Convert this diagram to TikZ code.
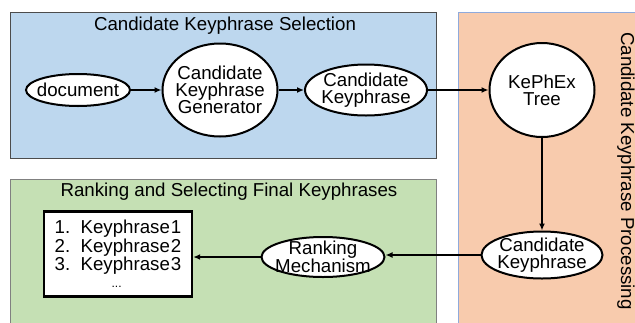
\documentclass[tikz,border=0pt]{standalone}
\usepackage{fontspec}
\setmainfont{Liberation Sans}
\usetikzlibrary{shapes.geometric,arrows.meta}
\definecolor{selblue}{HTML}{BDD7EE}
\definecolor{procorange}{HTML}{F8CBAD}
\definecolor{rankgreen}{HTML}{C5E0B4}
\definecolor{procedge}{HTML}{8FAADC}
\begin{document}
\begin{tikzpicture}[x=1pt,y=-1pt,
    bubble/.style={draw,ellipse,line width=2pt,fill=white,inner sep=-14pt,align=center},
    link/.style={line width=1.7pt,-{Latex[length=7pt,width=6pt]}},
    every node/.style={font=\fontsize{18.7}{17}\selectfont}]
            \clip (0,0) rectangle (635,322);
            % the three stages
            \draw[fill=selblue,draw=black!70] (10,12) rectangle (436,158);
            \draw[fill=procorange,draw=procedge] (458,12) rectangle (660,340);
            \draw[fill=rankgreen,draw=black!50] (10,179) rectangle (436,340);
            \node (seltitle) at (225,26) {Candidate Keyphrase Selection};
            \node (ranktitle) at (229,192) {Ranking and Selecting Final Keyphrases};
            \node[rotate=-90] (proctitle) at (626,171) {Candidate Keyphrase Processing};
            % nodes
            \node[bubble,minimum width=104,minimum height=32] (doc) at (78,90) {document};
            \node[bubble,minimum width=115,minimum height=93] (gen) at (220,90) {Candidate\\Keyphrase\\Generator};
            \node[bubble,minimum width=122,minimum height=51] (cand) at (366,90) {Candidate\\Keyphrase};
            \node[bubble,minimum width=105,minimum height=94] (tree) at (542,90) {KePhEx\\Tree};
            \node[bubble,minimum width=121,minimum height=47] (candb) at (542,255) {Candidate\\Keyphrase};
            \node[bubble,minimum width=123,minimum height=40] (rank) at (323,257) {Ranking\\Mechanism};
            \node[draw,line width=2.4pt,fill=white,minimum width=148,minimum height=85,inner sep=0pt,align=left] (list) at (118,254)
                {1.\ \ Keyphrase\kern1pt1\\2.\ \ Keyphrase\kern1pt2\\3.\ \ Keyphrase\kern1pt3\\\hspace*{57pt}{\fontsize{12}{12}\selectfont ...}};
            % connectors
            \draw[link] (doc) -- (gen);
            \draw[link] (gen) -- (cand);
            \draw[link] (cand) -- (tree);
            \draw[link] (tree) -- (candb);
            \draw[link] (candb.west) -- (rank.east |- candb.west);
            \draw[link] (rank.west) -- (list.east |- rank.west);
        \end{tikzpicture}
\end{document}
